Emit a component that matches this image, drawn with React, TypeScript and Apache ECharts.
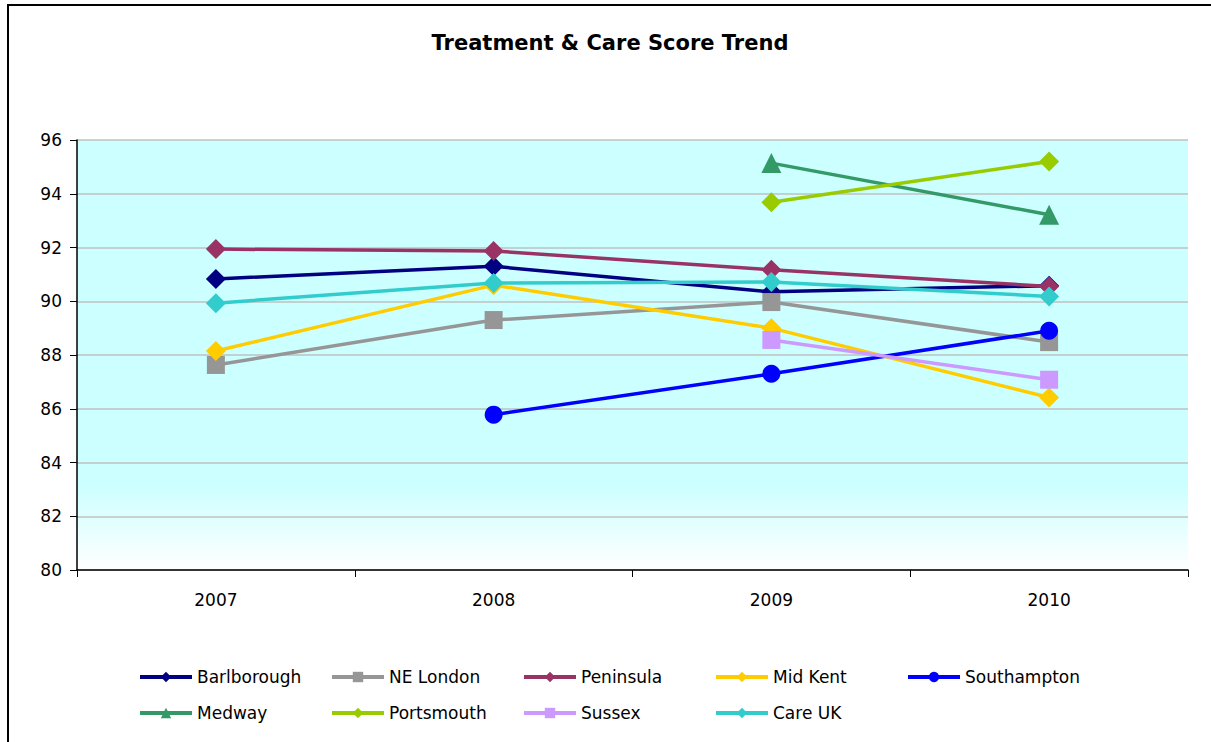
import React, { useEffect, useRef } from "react";
import * as echarts from "echarts";

const years = ["2007", "2008", "2009", "2010"];
const seriesNames = ["Barlborough", "NE London", "Peninsula", "Mid Kent", "Southampton", "Medway", "Portsmouth", "Sussex", "Care UK"];
const barlborough = [90.83, 91.3, 90.35, 90.58];
const neLondon = [87.63, 89.3, 89.97, 88.48];
const peninsula = [91.94, 91.87, 91.17, 90.55];
const midKent = [88.15, 90.6, 89.0, 86.42];
const southampton = [null, 85.78, 87.3, 88.9];
const medway = [null, null, 95.14, 93.22];
const portsmouth = [null, null, 93.68, 95.2];
const sussex = [null, null, 88.56, 87.08];
const careUK = [89.93, 90.68, 90.72, 90.18];
const yTicks = [80, 82, 84, 86, 88, 90, 92, 94, 96];

const seriesData = [barlborough, neLondon, peninsula, midKent, southampton, medway, portsmouth, sussex, careUK];
const colors = ["#000080", "#969696", "#993366", "#FFCC00", "#0000FF", "#339966", "#99CC00", "#CC99FF", "#33CCCC"];
const symbols = ["diamond", "rect", "diamond", "diamond", "circle", "triangle", "diamond", "rect", "diamond"];
const symbolSizes = [20, 18, 20, 20, 18, 20, 20, 18, 20];

const FONT = '"DejaVu Sans", Arial, sans-serif';

export default function App() {
  const ref = useRef<HTMLDivElement>(null);
  useEffect(() => {
    if (!ref.current) return;
    const chart = echarts.init(ref.current, null, { renderer: "svg" });
    const legendCols = [138, 330, 522, 714, 906];
    const legendRows = [677, 713];
    const legends = seriesNames.map((name, i) => ({
      data: [name],
      left: legendCols[i % 5],
      top: legendRows[Math.floor(i / 5)] - 10,
      padding: 0,
      itemWidth: 52,
      itemHeight: 13,
      selectedMode: false,
      lineStyle: { width: 4 },
      textStyle: { fontFamily: FONT, fontSize: 17, lineHeight: 20, color: "#000" },
    }));
    chart.setOption({
      animation: false,
      backgroundColor: "#fff",
      title: {
        text: "Treatment & Care Score Trend",
        left: 610,
        textAlign: "center",
        top: 32,
        padding: 0,
        textStyle: { fontFamily: FONT, fontSize: 21, fontWeight: "bold", color: "#000" },
      },
      graphic: [
        {
          type: "rect",
          shape: { x: 8, y: 5, width: 1230, height: 780 },
          style: { fill: "none", stroke: "#000", lineWidth: 2 },
          silent: true,
        },
      ],
      legend: legends,
      grid: {
        left: 77,
        right: 23,
        top: 140,
        bottom: 172,
        show: true,
        borderWidth: 0,
        backgroundColor: new echarts.graphic.LinearGradient(0, 0, 0, 1, [
          { offset: 0, color: "#CCFFFF" },
          { offset: 0.8, color: "#CCFFFF" },
          { offset: 1, color: "#FFFFFF" },
        ]),
      },
      xAxis: {
        type: "category",
        data: years,
        boundaryGap: true,
        axisLine: { lineStyle: { color: "#000", width: 1.5 } },
        axisTick: { show: true, length: 7, lineStyle: { color: "#000" } },
        axisLabel: { fontFamily: FONT, fontSize: 17, color: "#000", margin: 21 },
        splitLine: { show: false },
      },
      yAxis: {
        type: "value",
        min: yTicks[0],
        max: yTicks[yTicks.length - 1],
        interval: 2,
        axisLine: { show: true, lineStyle: { color: "#000", width: 1.5 } },
        axisTick: { show: true, length: 7, lineStyle: { color: "#000" } },
        axisLabel: { fontFamily: FONT, fontSize: 17, color: "#000", margin: 15 },
        splitLine: { show: true, lineStyle: { color: "#C0C0C0", width: 1.5 } },
      },
      series: seriesNames.map((name, i) => ({
        name,
        type: "line",
        data: seriesData[i],
        connectNulls: false,
        symbol: symbols[i],
        symbolSize: symbolSizes[i],
        showAllSymbol: true,
        lineStyle: { color: colors[i], width: 3.5 },
        itemStyle: { color: colors[i], borderWidth: 0 },
        z: 2 + i,
      })),
    });
    return () => chart.dispose();
  }, []);
  return (
    <div
      ref={ref}
      style={{ position: "fixed", left: 0, top: 0, width: 1211, height: 742 }}
    />
  );
}
